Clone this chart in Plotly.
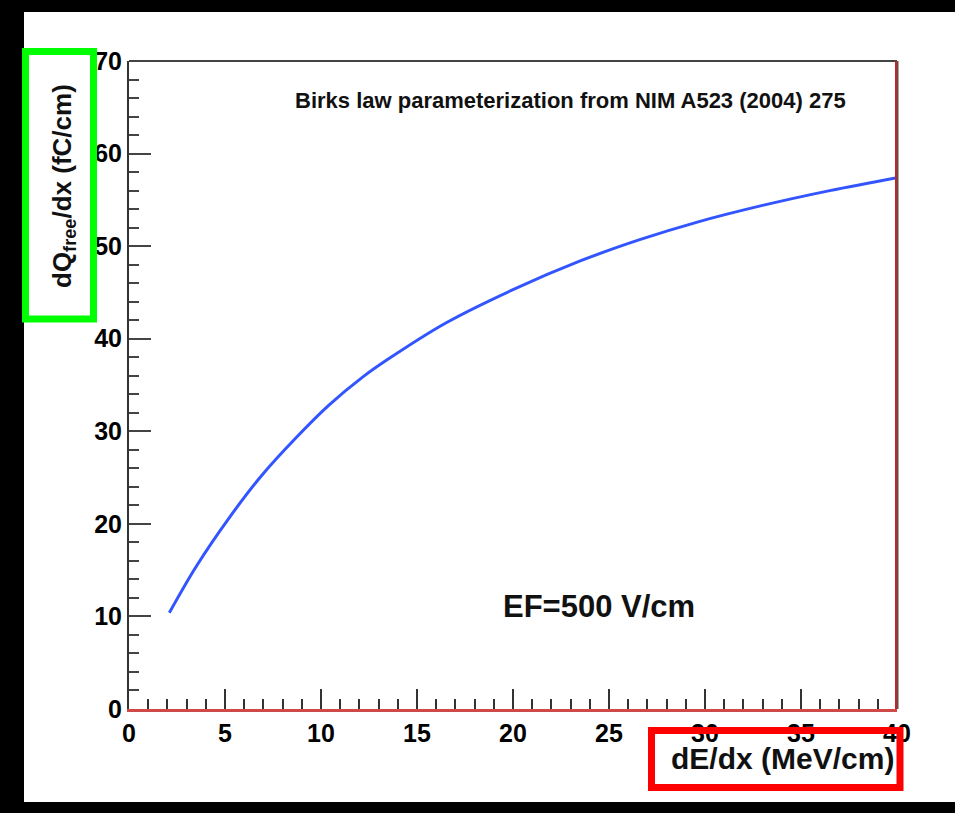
import plotly.graph_objects as go

# Data
dedx = [2.1, 3.5, 5.2, 6.9, 8.7, 10.4, 12.2, 13.5, 16.5, 20.0, 23.5, 26.6, 29.6, 33.0, 36.5, 40.0]
dqdx = [10.4, 15.4, 20.6, 25.2, 29.3, 32.8, 35.9, 37.8, 41.7, 45.3, 48.4, 50.7, 52.6, 54.4, 56.0, 57.4]
x_ticks = [0, 5, 10, 15, 20, 25, 30, 35, 40]
y_ticks = [0, 10, 20, 30, 40, 50, 60, 70]

W, H = 955, 813
L, R, T, B = 129, 897, 61, 709  # plot area in pixels
pw, ph = R - L, B - T

def px(x):
    return (x - L) / pw

def py(y):
    return (B - y) / ph

FONT = "Liberation Sans"

fig = go.Figure()
fig.add_trace(go.Scatter(x=dedx, y=dqdx, mode="lines", line=dict(color="#3355ff", width=3, shape="spline"),
                         showlegend=False, hoverinfo="skip"))

fig.update_layout(
    width=W, height=H,
    margin=dict(l=L, r=W - R, t=T, b=H - B),
    paper_bgcolor="black", plot_bgcolor="white",
    showlegend=False,
)
fig.update_xaxes(range=[0, 40], tickvals=x_ticks, ticks="inside", ticklen=20, tickwidth=2, tickcolor="#333",
                 minor=dict(dtick=1, ticks="inside", ticklen=10, tickwidth=2, tickcolor="#333"),
                 showgrid=False, zeroline=False, showline=True, linecolor="#d04848", linewidth=3,
                 tickfont=dict(family=FONT, size=25, color="black", weight="bold"))
fig.update_yaxes(range=[0, 70], tickvals=y_ticks, ticks="inside", ticklen=22, tickwidth=2, tickcolor="#444",
                 minor=dict(dtick=2, ticks="inside", ticklen=10, tickwidth=2, tickcolor="#444"),
                 showgrid=False, zeroline=False, showline=True, linecolor="#333", linewidth=2,
                 tickfont=dict(family=FONT, size=25, color="black", weight="bold"))

shapes = [
    # white page area
    dict(type="rect", xref="paper", yref="paper", x0=px(24), x1=px(955), y0=py(802), y1=py(12),
         fillcolor="white", line=dict(width=0), layer="below"),
    # top frame
    dict(type="line", xref="paper", yref="paper", x0=0, x1=1, y0=1, y1=1, line=dict(color="#444", width=2)),
    # right frame
    dict(type="line", xref="paper", yref="paper", x0=1, x1=1, y0=0, y1=1, line=dict(color="#555", width=3)),
    dict(type="line", xref="paper", yref="paper", x0=px(896), x1=px(896), y0=0, y1=1, line=dict(color="#cc2222", width=2)),
    # green highlight box
    dict(type="rect", xref="paper", yref="paper", x0=px(25.5), x1=px(93.5), y0=py(319), y1=py(51.5),
         line=dict(color="#00ff00", width=7), layer="above"),
    # red highlight box
    dict(type="rect", xref="paper", yref="paper", x0=px(651.5), x1=px(900), y0=py(787.5), y1=py(730.5),
         line=dict(color="#ff0000", width=7), layer="above"),
]
fig.update_layout(shapes=shapes)

annotations = [
    dict(text="Birks law parameterization from NIM A523 (2004) 275", x=px(570), y=py(100),
         font=dict(family=FONT, size=22, color="#111", weight="bold")),
    dict(text="EF=500 V/cm", x=px(599), y=py(606),
         font=dict(family=FONT, size=31, color="#111", weight="bold")),
    dict(text="dE/dx (MeV/cm)", x=px(896), y=py(759), xanchor="right",
         font=dict(family=FONT, size=30, color="#111", weight="bold")),
    dict(text="dQ<sub>free</sub>/dx (fC/cm)", x=px(63), y=py(186), textangle=-90,
         font=dict(family=FONT, size=26, color="#111", weight="bold")),
]
for a in annotations:
    a.setdefault("xanchor", "center")
    a.update(xref="paper", yref="paper", yanchor="middle", showarrow=False)
fig.update_layout(annotations=annotations)

fig.write_html("out.html")
